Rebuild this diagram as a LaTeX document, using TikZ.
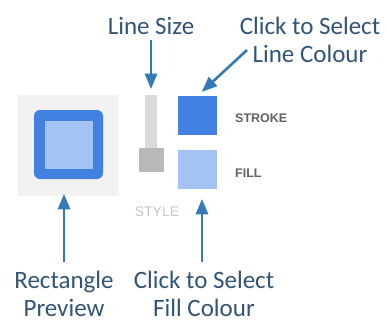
\documentclass[tikz,border=0pt]{standalone}
\usepackage{fontspec}
\setmainfont{Carlito}
\newfontfamily\tagfont{Liberation Sans}
\usetikzlibrary{arrows,positioning}

\definecolor{labelblue}{RGB}{50,84,118}
\definecolor{arrowblue}{RGB}{52,122,184}
\definecolor{strokeblue}{RGB}{66,128,226}
\definecolor{fillblue}{RGB}{164,194,244}
\definecolor{panelgray}{RGB}{242,242,242}
\definecolor{trackgray}{RGB}{218,218,218}
\definecolor{thumbgray}{RGB}{184,184,184}

\begin{document}
\begin{tikzpicture}[x=1pt,y=-1pt,>=triangle 45,
                    callout/.style={->,draw=arrowblue,line width=2.6pt},
                    label text/.style={text=labelblue,align=center,inner sep=0pt,
                                       font=\fontsize{25}{28}\selectfont},
                    tag text/.style={inner sep=0pt,anchor=west,
                                     font=\tagfont\bfseries\fontsize{12.5}{14}\selectfont,text=black!62},
                    swatch/.style={draw=none,minimum size=39pt,inner sep=0pt}]
\useasboundingbox (0,0) rectangle (386,322);

% preview panel
\node[fill=panelgray,minimum size=101pt,inner sep=0pt] (panel) at (68.5,145.5) {};
\node[fill=strokeblue,rounded corners=6pt,minimum size=69pt,inner sep=0pt] (preview) at (68.5,144.5) {};
\node[fill=fillblue,minimum size=48pt,inner sep=0pt] (inner) at (preview) {};

% line size slider
\node[fill=trackgray,minimum width=12pt,minimum height=75pt,inner sep=0pt] (track) at (151,132.5) {};
\node[fill=thumbgray,minimum width=25pt,minimum height=24pt,inner sep=0pt] (thumb) at (151.5,159.5) {};
\node[inner sep=0pt,text=black!22,font=\tagfont\fontsize{14}{16}\selectfont] (style) at (157,212) {STYLE};

% colour swatches
\node[swatch,fill=strokeblue] (stroke) at (197.5,115.5) {};
\node[swatch,fill=fillblue] (fill) at (197.5,169.5) {};
\node[tag text] (strokelbl) at (235,118) {STROKE};
\node[tag text] (filllbl) at (235,173) {FILL};

% labels
\node[label text] (linesize) at (151,26) {Line Size};
\node[label text] (linecol) at (310,40) {Click to Select\\Line Colour};
\node[label text] (rectprev) at (64,294) {Rectangle\\Preview};
\node[label text] (fillcol) at (204,294) {Click to Select\\Fill Colour};
\coordinate (lcstart) at (247,50);

\draw[callout,shorten <=5pt,shorten >=6pt] (linesize) -- (track);
\draw[callout,shorten >=6pt] (lcstart) -- (stroke.north);
\draw[callout,shorten <=9pt,shorten >=-2pt] (rectprev.north) -- (rectprev.north |- panel.south);
\draw[callout,shorten <=9pt,shorten >=10pt] (fillcol.north -| fill.south) ++(4.5,0) -- ([xshift=4.5pt]fill.south);

\end{tikzpicture}
\end{document}
